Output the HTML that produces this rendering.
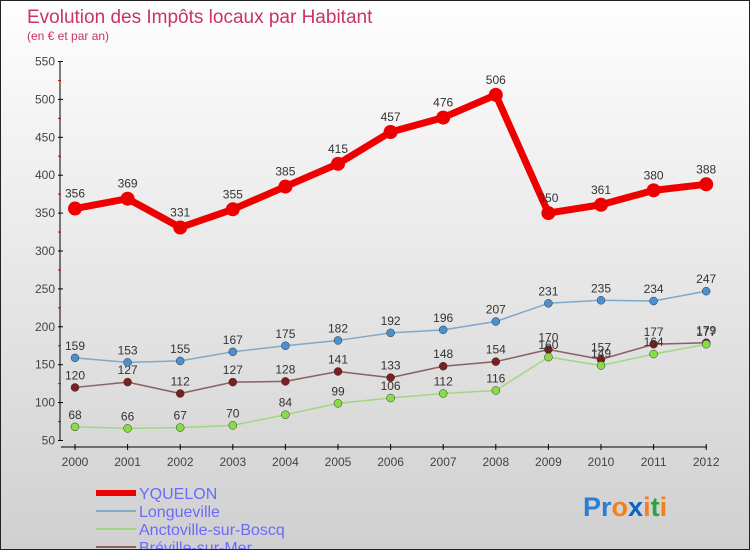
<!DOCTYPE html>
<html><head><meta charset="utf-8"><style>
html,body{margin:0;padding:0}
body{width:750px;height:550px;overflow:hidden;font-family:"Liberation Sans",sans-serif}
#wrap{position:relative;width:748px;height:548px;border:1px solid #222;background:linear-gradient(#fefefe,#d0d0d0)}
</style></head><body>
<div id="wrap">
<svg id="chart" width="748" height="548" font-family="Liberation Sans, sans-serif">
<text x="26" y="22" font-size="19" fill="#c8336a">Evolution des Impôts locaux par Habitant</text>
<text x="26" y="39" font-size="12" fill="#c8336a">(en € et par an)</text>
<g id="axes"></g>
<g id="series"></g>
<g id="legend"></g>
<text x="582" y="515" font-size="27" font-weight="bold"><tspan fill="#2a7fd0">Pr</tspan><tspan fill="#f08020">o</tspan><tspan fill="#1060c0">x</tspan><tspan fill="#f08020">i</tspan><tspan fill="#30a040">t</tspan><tspan fill="#f08020">i</tspan></text>
</svg>
</div>
<script>
const years=[2000,2001,2002,2003,2004,2005,2006,2007,2008,2009,2010,2011,2012];
const yTicks=[50,100,150,200,250,300,350,400,450,500,550];
const yquelon=[356,369,331,355,385,415,457,476,506,350,361,380,388];
const longueville=[159,153,155,167,175,182,192,196,207,231,235,234,247];
const anctoville=[68,66,67,70,84,99,106,112,116,160,149,164,177];
const breville=[120,127,112,127,128,141,133,148,154,170,157,177,179];
const NS="http://www.w3.org/2000/svg";
const X=i=>74+i*52.6;
const Y=v=>439.5-(v-50)*(379/500);
function mk(t,a,p){const e=document.createElementNS(NS,t);for(const k in a)e.setAttribute(k,a[k]);p.appendChild(e);return e;}
const ax=document.getElementById('axes');
let l=mk('line',{x1:59,y1:60,x2:59,y2:440,stroke:'#000'},ax);


l=mk('line',{x1:60,y1:446,x2:706,y2:446,stroke:'#000'},ax);


yTicks.forEach(v=>{
 mk('line',{x1:57,y1:Y(v),x2:62,y2:Y(v),stroke:'#000'},ax);
 if(v<550) mk('line',{x1:57,y1:Y(v+25),x2:60,y2:Y(v+25),stroke:'#c00'},ax);
 const t=mk('text',{x:54,y:Y(v)+4,'font-size':12,fill:'#444','text-anchor':'end'},ax);t.textContent=v;
 
 
});
years.forEach((y,i)=>{
 mk('line',{x1:X(i),y1:443,x2:X(i),y2:449,stroke:'#000'},ax);
 const t=mk('text',{x:X(i),y:465,'font-size':12,fill:'#444','text-anchor':'middle'},ax);t.textContent=y;
 
 
});
const sg=document.getElementById('series');
const series=[
 {name:'breville',d:breville,c:'#7a2020',lw:1.5,r:4,lc:'#8a6060'},
 {name:'anctoville',d:anctoville,c:'#88dd44',lw:1.5,r:4,lc:'#a0d880'},
 {name:'longueville',d:longueville,c:'#4a90d0',lw:1.5,r:4,lc:'#80a8c8'},
 {name:'yquelon',d:yquelon,c:'#ee0000',lw:7,r:7,lc:'#ee0000'}
];
series.forEach(s=>{
 const g=mk('g',{},sg);
 
 
 const p=mk('polyline',{points:s.d.map((v,i)=>X(i)+','+Y(v)).join(' '),fill:'none',stroke:s.lc,'stroke-width':s.lw,'stroke-linejoin':'round'},g);
 
 
 s.d.forEach((v,i)=>{
  const c=mk('circle',{cx:X(i),cy:Y(v),r:s.r,fill:s.c,stroke:s.name==='yquelon'?'none':'#333','stroke-width':0.5},g);
  
  
  const t=mk('text',{x:X(i),y:Y(v)-(s.name==='yquelon'?11:8),'font-size':12,fill:'#333','text-anchor':'middle'},g);t.textContent=v;
  
  
 });
});
const lg=document.getElementById('legend');
const leg=[['YQUELON','#ee0000',6],['Longueville','#80a8c8',2],['Anctoville-sur-Boscq','#a0d880',2],['Bréville-sur-Mer','#8a6060',2]];
leg.forEach((e,i)=>{
 const y=492+i*18;
 const g=mk('g',{},lg);
 
 
 mk('line',{x1:95,y1:y,x2:135,y2:y,stroke:e[1],'stroke-width':e[2]},g);
 const t=mk('text',{x:138,y:y+6,'font-size':16,fill:'#6a6aff'},g);t.textContent=e[0];
});
</script>
</body></html>
